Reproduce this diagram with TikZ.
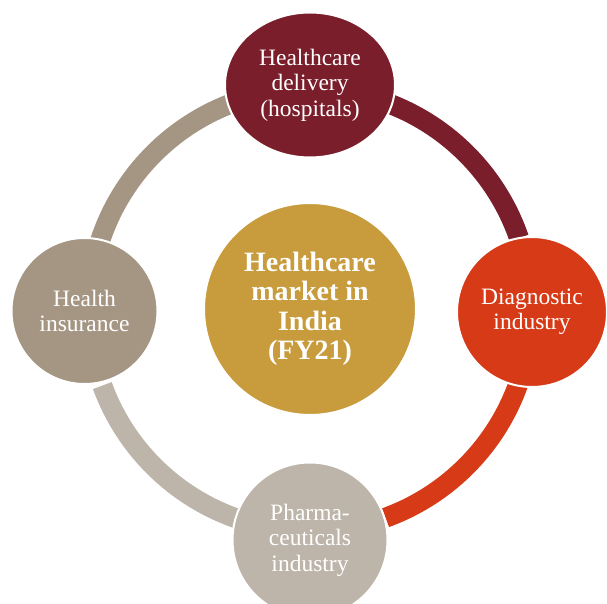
\documentclass[tikz,border=0pt]{standalone}
\usepackage{fontspec}
\setmainfont{Liberation Serif}
\usetikzlibrary{shapes.geometric}
\definecolor{cDel}{HTML}{7B1E2B}
\definecolor{cDia}{HTML}{D63A17}
\definecolor{cPha}{HTML}{BDB5A9}
\definecolor{cIns}{HTML}{A59684}
\definecolor{cCtr}{HTML}{C89C3C}
\tikzset{
  band/.style={line width=20pt},
  outer/.style={circle, inner sep=0pt, draw=white, line width=2pt, text=white, align=center,
    font=\fontsize{23.5}{25.5}\selectfont},
}
\begin{document}
\begin{tikzpicture}[x=1pt,y=1pt]
\useasboundingbox (-310,310) rectangle (297,-294);
\coordinate (ring) at (0,0);
% ring bands
\draw[band, cDel] ([shift={(80:221)}]ring) arc[start angle=80, end angle=19, radius=221];
\draw[band, cDia] ([shift={(-10:221)}]ring) arc[start angle=-10, end angle=-70, radius=221];
\draw[band, cPha] ([shift={(-100:221)}]ring) arc[start angle=-100, end angle=-160, radius=221];
\draw[band, cIns] ([shift={(170:221)}]ring) arc[start angle=170, end angle=111, radius=221];
% nodes
\node[outer, ellipse, fill=cDel, minimum width=170pt, minimum height=145pt] (del) at (0,225)
  {Healthcare\\delivery\\(hospitals)};
\node[outer, fill=cDia, minimum size=150pt] (dia) at (222,-2) {Diagnostic\\industry};
\node[outer, fill=cPha, minimum size=155pt] (pha) at (0,-230) {Pharma-\\ceuticals\\industry};
\node[outer, fill=cIns, minimum size=146pt] (ins) at (-225.5,-1) {Health\\insurance};
\node[circle, inner sep=0pt, fill=cCtr, draw=white, line width=2pt, minimum size=212pt, text=white,
  align=center, font=\fontsize{28}{29.5}\selectfont\bfseries] (ctr) at (0,1)
  {Healthcare\\market in\\India\\(FY21)};
\end{tikzpicture}
\end{document}
